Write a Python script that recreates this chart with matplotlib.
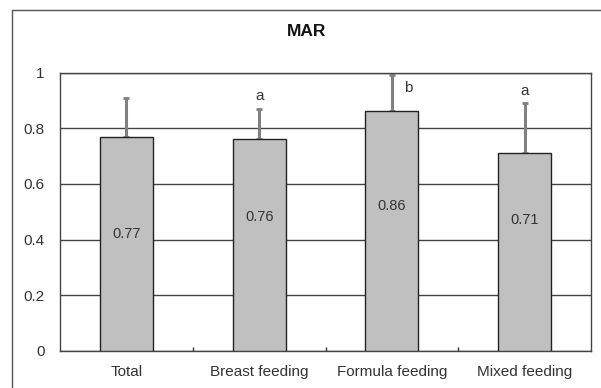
import matplotlib
matplotlib.use("Agg")
import matplotlib.pyplot as plt
from matplotlib.lines import Line2D

groups = ["Total", "Breast feeding", "Formula feeding", "Mixed feeding"]
means = [0.77, 0.76, 0.86, 0.71]
sds = [0.14, 0.11, 0.13, 0.18]
letters = ["", "a", "b", "a"]
label_y = [0.42, 0.48, 0.52, 0.47]

plt.rcParams["font.family"] = ["Liberation Sans", "DejaVu Sans"]

fig = plt.figure(figsize=(6.01, 3.88), dpi=100)
ax = fig.add_axes([60 / 601, 37 / 388, 531 / 601, 278.5 / 388])

x = range(len(groups))
ax.bar(x, means, width=0.4, color="#c0c0c0", edgecolor="#222222",
       linewidth=1, zorder=3)
ax.errorbar(x, means, yerr=[[0] * len(sds), sds], fmt="none",
            ecolor="#808080", elinewidth=2.2, capsize=2.5, capthick=2, zorder=2)

for i, m in enumerate(means):
    ax.text(i, label_y[i], f"{m:.2f}", ha="center", va="center",
            fontsize=10.5, color="#333333", zorder=4)

# significance letters
for i, s in enumerate(letters):
    if not s:
        continue
    top = means[i] + sds[i]
    if i == 2:
        ax.text(i + 0.12, top - 0.046, s, ha="center", va="center",
                fontsize=11, color="#333333")
    else:
        ax.text(i, top + 0.045, s, ha="center", va="center",
                fontsize=11, color="#333333")

ax.set_xlim(-0.5, 3.5)
ax.set_ylim(0, 1)
ax.set_yticks([0, 0.2, 0.4, 0.6, 0.8, 1])
ax.set_yticklabels(["0", "0.2", "0.4", "0.6", "0.8", "1"])
ax.set_xticks(list(x))
ax.set_xticklabels(groups)
ax.set_xticks([0.5, 1.5, 2.5], minor=True)
ax.tick_params(axis="x", which="major", length=0, pad=10, labelsize=11,
               labelcolor="#333333")
ax.tick_params(axis="x", which="minor", direction="in", length=3,
               width=1, color="#333333")
ax.tick_params(axis="y", length=0, pad=11, labelsize=11, labelcolor="#333333")
ax.grid(axis="y", color="#444444", linewidth=1, zorder=0)
for side in ["left", "bottom", "right", "top"]:
    ax.spines[side].set_color("#444444")
    ax.spines[side].set_linewidth(1)

fig.text(307 / 601, 1 - 32 / 388, "MAR", ha="center", va="center",
         fontsize=12.5, fontweight="bold", color="#111111")

# outer chart frame
fig.add_artist(Line2D([12 / 601, 12 / 601, 1.0], [0, 1 - 10 / 388, 1 - 10 / 388],
                      transform=fig.transFigure, color="#555555", linewidth=1))

fig.savefig("out.png", dpi=100)
